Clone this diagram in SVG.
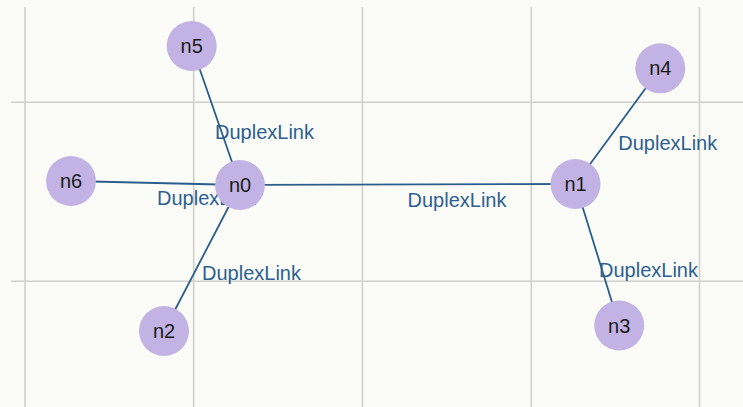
<svg xmlns="http://www.w3.org/2000/svg" width="743" height="407" viewBox="0 0 743 407">
  <style>
    .grid { stroke: #d0d0cc; stroke-width: 1.6; fill: none; }
    .edge { stroke: #2b5e8a; stroke-width: 1.8; fill: none; }
    .elabel { font-family: "Liberation Sans", Arial, sans-serif; font-size: 20px; fill: #2d6090; }
    .node circle { fill: #c2b3e4; }
    .node text { font-family: "Liberation Sans", Arial, sans-serif; font-size: 20px; fill: #1a1a1a; text-anchor: middle; }
  </style>
  <rect width="743" height="407" fill="#fbfcf8"/>
  <g id="grid">
    <line class="grid" x1="25" y1="7" x2="25" y2="407"/>
    <line class="grid" x1="193.7" y1="7" x2="193.7" y2="407"/>
    <line class="grid" x1="362.4" y1="7" x2="362.4" y2="407"/>
    <line class="grid" x1="531.3" y1="7" x2="531.3" y2="407"/>
    <line class="grid" x1="699.5" y1="7" x2="699.5" y2="407"/>
    <line class="grid" x1="11" y1="102.3" x2="743" y2="102.3"/>
    <line class="grid" x1="11" y1="281.3" x2="743" y2="281.3"/>
  </g>
  <g id="connectors">
    <line class="edge" x1="191.7" y1="46" x2="240" y2="185"/>
    <line class="edge" x1="71" y1="181" x2="240" y2="185"/>
    <line class="edge" x1="240" y1="185" x2="575.5" y2="184"/>
    <line class="edge" x1="240" y1="185" x2="164" y2="331"/>
    <line class="edge" x1="575.5" y1="184" x2="660.3" y2="68.3"/>
    <line class="edge" x1="575.5" y1="184" x2="619.2" y2="325.5"/>
    <text class="elabel" x="215" y="139">DuplexLink</text>
    <text class="elabel" x="157" y="204.5">DuplexLink</text>
    <text class="elabel" x="407.5" y="207">DuplexLink</text>
    <text class="elabel" x="202" y="280">DuplexLink</text>
    <text class="elabel" x="618.3" y="150">DuplexLink</text>
    <text class="elabel" x="599" y="276.5">DuplexLink</text>
  </g>
  <g id="n5" class="node"><circle cx="191.7" cy="46" r="25"/><text x="191.7" y="53">n5</text></g>
  <g id="n6" class="node"><circle cx="71" cy="181" r="25"/><text x="71" y="188">n6</text></g>
  <g id="n0" class="node"><circle cx="240" cy="185" r="25"/><text x="240" y="192">n0</text></g>
  <g id="n1" class="node"><circle cx="575.5" cy="184" r="25"/><text x="575.5" y="191">n1</text></g>
  <g id="n4" class="node"><circle cx="660.3" cy="68.3" r="25"/><text x="660.3" y="75.3">n4</text></g>
  <g id="n2" class="node"><circle cx="164" cy="331" r="25"/><text x="164" y="338">n2</text></g>
  <g id="n3" class="node"><circle cx="619.2" cy="325.5" r="25"/><text x="619.2" y="332.5">n3</text></g>
</svg>
